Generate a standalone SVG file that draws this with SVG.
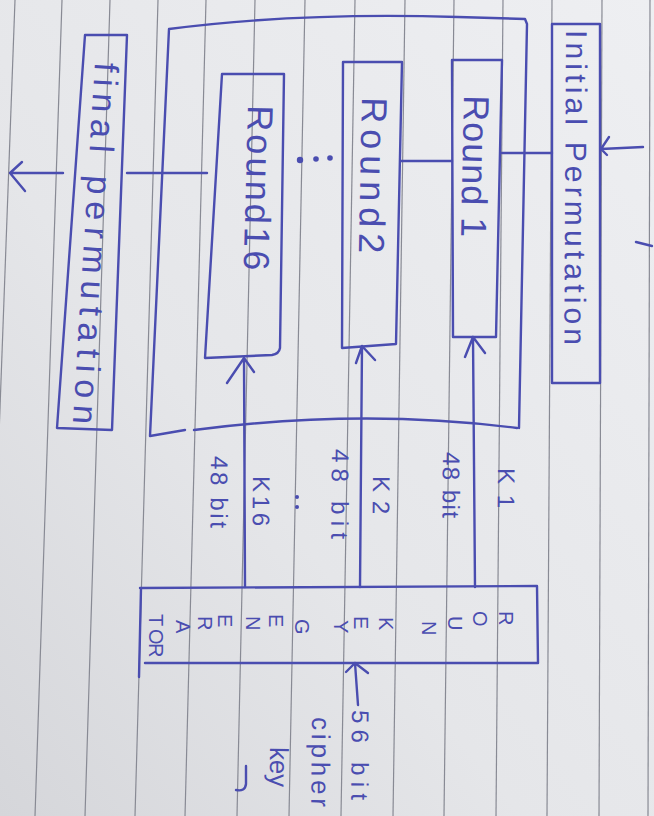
<svg xmlns="http://www.w3.org/2000/svg" width="654" height="816" viewBox="0 0 654 816">
<style>
.pen{fill:none;stroke:#4a4db0;stroke-width:2.4;stroke-linecap:round;stroke-linejoin:round}
.rule{stroke:#888a94;stroke-width:1.2}
.t{font-family:"Liberation Sans","DejaVu Sans",sans-serif;fill:#4a4db0}
.dot{fill:#4a4db0}
</style>
<defs>
<linearGradient id="paper" x1="1" y1="0" x2="0" y2="1">
<stop offset="0" stop-color="#eeeff2"/>
<stop offset="0.6" stop-color="#e5e6e9"/>
<stop offset="1" stop-color="#d5d6da"/>
</linearGradient>
</defs>
<rect width="654" height="816" fill="url(#paper)"/>
<g id="ruled-lines">
<line class="rule" x1="15" y1="0" x2="-15" y2="816"/>
<line class="rule" x1="62" y1="0" x2="35" y2="816"/>
<line class="rule" x1="110" y1="0" x2="85" y2="816"/>
<line class="rule" x1="158" y1="0" x2="135" y2="816"/>
<line class="rule" x1="206" y1="0" x2="185" y2="816"/>
<line class="rule" x1="255" y1="0" x2="237" y2="816"/>
<line class="rule" x1="305" y1="0" x2="289" y2="816"/>
<line class="rule" x1="355" y1="0" x2="341" y2="816"/>
<line class="rule" x1="405" y1="0" x2="393" y2="816"/>
<line class="rule" x1="454" y1="0" x2="444" y2="816"/>
<line class="rule" x1="503" y1="0" x2="496" y2="816"/>
<line class="rule" x1="552" y1="0" x2="547" y2="816"/>
<line class="rule" x1="602" y1="0" x2="599" y2="816"/>
<line class="rule" x1="650" y1="0" x2="648" y2="816"/>
</g>

<g id="rounds-frame">
<path class="pen" d="M185,430 L150,436 L169,29 Q300,12 458,17 L525,19 L527,24 L519,428"/>
<path class="pen" d="M194,430 Q362,408 517,428"/>
</g>

<g id="initial-permutation">
<path class="pen" d="M552,24 L600,24 L600,383 L552,383 Z"/>
<text class="t" font-size="30" transform="translate(566,30) rotate(90.3)" textLength="315" lengthAdjust="spacing">Initial Permutation</text>
</g>

<g id="round-1">
<path class="pen" d="M452,60 L502,60 L496,337 L453,337 Z"/>
<text class="t" font-size="36" transform="translate(464,95) rotate(91.2)" textLength="142" lengthAdjust="spacing">Round 1</text>
</g>

<g id="round-2">
<path class="pen" d="M343,62 L402,62 L396,344 L342,348 Z"/>
<text class="t" font-size="36" transform="translate(362,97) rotate(91.2)" textLength="156" lengthAdjust="spacing">Round2</text>
</g>

<g id="round-16">
<path class="pen" d="M222,74 L284,74 L280,348 Q279,354 272,355 L205,358 Z"/>
<text class="t" font-size="36" transform="translate(248,105) rotate(91.5)" textLength="165" lengthAdjust="spacing">Round16</text>
</g>

<g id="ellipsis">
<circle class="dot" cx="300" cy="160" r="3.2"/>
<circle class="dot" cx="316" cy="159" r="2.8"/>
<circle class="dot" cx="330" cy="158" r="2.8"/>
<circle class="dot" cx="297" cy="497" r="2"/>
<circle class="dot" cx="297" cy="507" r="2"/>
</g>

<g id="final-permutation">
<path class="pen" d="M85,35 L127,35 L112,430 L57,428 Z"/>
<text class="t" font-size="34" transform="translate(95,62) rotate(93.5)" textLength="362" lengthAdjust="spacing">final permutation</text>
</g>

<g id="round-key-generator">
<path class="pen" d="M140,588 L537,586 L538,663 L145,663 M141,588 L139,677"/>
<text class="t" font-size="20" rotate="90" x="499 473 448 422 409 379 354 334 319 295 269 246 218 198 176 149 149 149" y="611 611 616 621 620 617 616 620 620 619 614 616 614 616 620 614 629 643">ROUN KEY GENERATOR</text>
</g>

<g id="labels">
<text class="t" font-size="24" transform="translate(498,468) rotate(90.5)" textLength="40" lengthAdjust="spacing">K1</text>
<text class="t" font-size="24" transform="translate(443,452) rotate(90.5)" textLength="66" lengthAdjust="spacing">48 bit</text>
<text class="t" font-size="24" transform="translate(373,476) rotate(90.5)" textLength="38" lengthAdjust="spacing">K2</text>
<text class="t" font-size="24" transform="translate(332,449) rotate(90.5)" textLength="90" lengthAdjust="spacing">48 bit</text>
<text class="t" font-size="24" transform="translate(253,476) rotate(90.5)" textLength="50" lengthAdjust="spacing">K16</text>
<text class="t" font-size="24" transform="translate(211,456) rotate(90.5)" textLength="72" lengthAdjust="spacing">48 bit</text>
<text class="t" font-size="24" transform="translate(352,710) rotate(90.5)" textLength="90" lengthAdjust="spacing">56 bit</text>
<text class="t" font-size="26" transform="translate(312,717) rotate(90.5)" textLength="90" lengthAdjust="spacing">cipher</text>
<text class="t" font-size="26" transform="translate(270,747) rotate(90.5)" textLength="40" lengthAdjust="spacing">key</text>
<path class="pen" d="M246,766 L246,784 Q245,792 236,790"/>
<path class="pen" d="M636,242 L652,246"/>
</g>

<g id="connectors">
<path class="pen" d="M643,147 L601,149 M609,137 L601,149 L607,155"/>
<path class="pen" d="M552,153 L502,153"/>
<path class="pen" d="M452,161 L401,161"/>
<path class="pen" d="M207,173 L127,173"/>
<path class="pen" d="M63,173 L10,173 M22,162 L10,173 L25,191"/>
<path class="pen" d="M475,587 L473,337 M465,357 L473,337 L485,353"/>
<path class="pen" d="M360,587 L362,346 M356,363 L362,346 L375,360"/>
<path class="pen" d="M245,587 L244,358 M227,383 L244,358 L254,372"/>
<path class="pen" d="M358,705 L355,663 M346,672 L355,663 L368,673"/>
</g>
</svg>
